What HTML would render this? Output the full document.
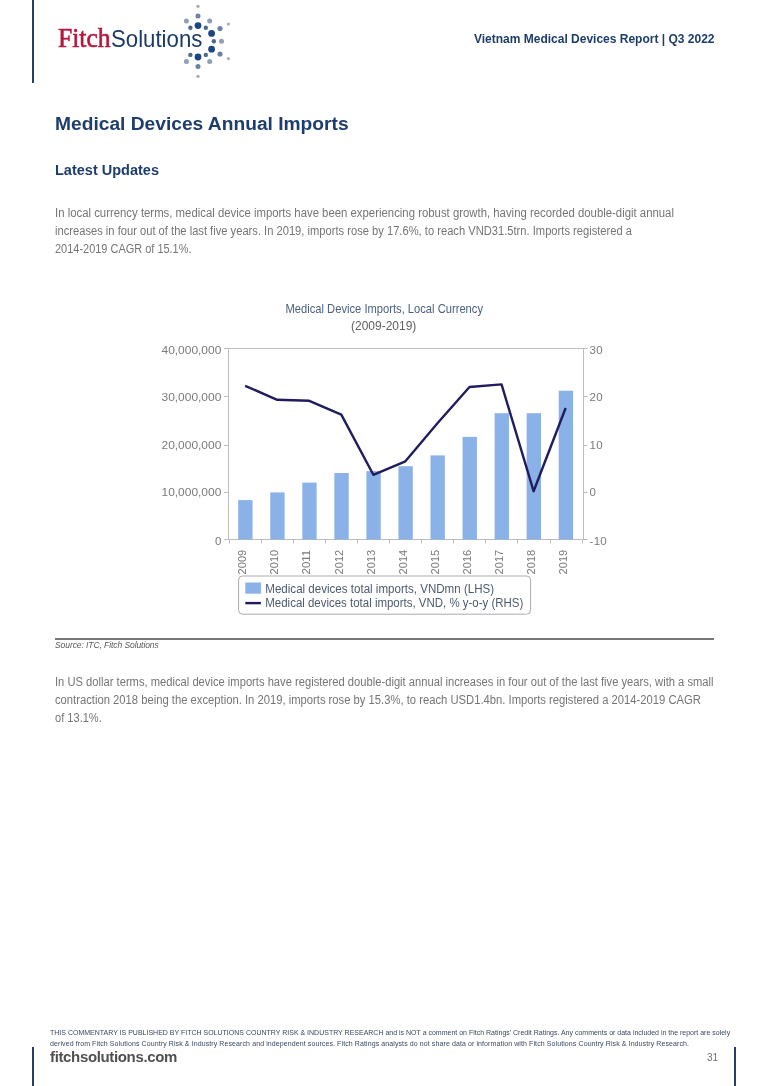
<!DOCTYPE html>
<html><head><meta charset="utf-8">
<style>
html,body{margin:0;padding:0;background:#fff;}
body{width:768px;height:1086px;position:relative;overflow:hidden;will-change:transform;font-family:"Liberation Sans",sans-serif;}
.a{position:absolute;white-space:nowrap;}
.vl{position:absolute;background:#24406a;width:2.3px;}
.hdr{font-weight:bold;color:#1d3d6c;}
.body{color:#757575;font-size:12.5px;line-height:18px;}
.ln{transform-origin:0 0;height:18px;}
</style></head><body>
<!-- header -->
<div class="vl" style="left:31.5px;top:0;height:82.6px;"></div>
<div class="a" id="fitch" style="left:57.5px;top:23px;font-family:'Liberation Serif',serif;font-size:28px;line-height:30px;color:#b5173f;-webkit-text-stroke:0.6px #b5173f;transform:scaleX(0.915);transform-origin:0 0;">Fitch</div>
<div class="a" id="sol" style="left:111.3px;top:24.3px;font-size:24px;line-height:30px;color:#1b3a68;transform:scaleX(0.925);transform-origin:0 0;">Solutions</div>
<svg class="a" style="left:0;top:0" width="260" height="90" viewBox="0 0 260 90">
<g>
<circle cx="198" cy="6.3" r="1.6" fill="#a3a7b0"/>
<circle cx="198" cy="16.1" r="2.5" fill="#6b82a5"/>
<circle cx="186.4" cy="21.1" r="2.5" fill="#909fb6"/>
<circle cx="209.7" cy="21.1" r="2.5" fill="#909fb6"/>
<circle cx="228.4" cy="24" r="1.6" fill="#a8acb4"/>
<circle cx="198" cy="25.6" r="3.4" fill="#1d4581"/>
<circle cx="190.4" cy="27.7" r="2.2" fill="#4b6790"/>
<circle cx="205.8" cy="27.7" r="2.2" fill="#4b6790"/>
<circle cx="220" cy="28.6" r="2.6" fill="#6b82a5"/>
<circle cx="211.6" cy="33.4" r="3.4" fill="#1d4581"/>
<circle cx="213.85" cy="41.3" r="2.2" fill="#4b6790"/>
<circle cx="221.5" cy="41.3" r="2.5" fill="#909fb6"/>
<circle cx="211.6" cy="49.2" r="3.4" fill="#1d4581"/>
<circle cx="220" cy="54" r="2.6" fill="#6b82a5"/>
<circle cx="205.8" cy="54.9" r="2.2" fill="#4b6790"/>
<circle cx="190.4" cy="54.9" r="2.2" fill="#4b6790"/>
<circle cx="198" cy="57" r="3.4" fill="#1d4581"/>
<circle cx="228.4" cy="58.6" r="1.6" fill="#a8acb4"/>
<circle cx="209.7" cy="61.5" r="2.5" fill="#909fb6"/>
<circle cx="186.4" cy="61.5" r="2.5" fill="#909fb6"/>
<circle cx="198" cy="66.5" r="2.5" fill="#6b82a5"/>
<circle cx="198" cy="76.3" r="1.6" fill="#a3a7b0"/>
</g>
</svg>
<div class="a hdr" id="rpt" style="right:53.5px;top:30.5px;font-size:12px;line-height:16px;">Vietnam Medical Devices Report | Q3 2022</div>

<!-- title -->
<div class="a hdr" id="title" style="left:55px;top:112px;font-size:19.2px;line-height:24px;">Medical Devices Annual Imports</div>
<div class="a hdr" id="latest" style="left:55px;top:160.5px;font-size:14.5px;line-height:18px;">Latest Updates</div>

<!-- para 1 -->
<div class="a body" id="p1" style="left:55px;top:203.5px;">
<div class="ln" style="transform:scaleX(0.909)">In local currency terms, medical device imports have been experiencing robust growth, having recorded double-digit annual</div>
<div class="ln" style="transform:scaleX(0.893)">increases in four out of the last five years. In 2019, imports rose by 17.6%, to reach VND31.5trn. Imports registered a</div>
<div class="ln" style="transform:scaleX(0.877)">2014-2019 CAGR of 15.1%.</div>
</div>

<!-- chart placeholder -->
<svg class="a" style="left:150px;top:290px" width="470" height="340" viewBox="150 290 470 340">
<g fill="none" stroke="#bdbdbd" stroke-width="1">
<path d="M228.5 348.5H583.5V539.5H228.5Z"/>
<path d="M224.0 396.50H228.5M583.5 396.50H587.5"/>
<path d="M224.0 445.50H228.5M583.5 445.50H587.5"/>
<path d="M224.0 492.50H228.5M583.5 492.50H587.5"/>
<path d="M224.0 348.5H228.5M583.5 348.5H587.5M224.0 539.5H228.5M583.5 539.5H587.5"/>
<path d="M229.5 539.5V543.5"/>
<path d="M261.5 539.5V543.5"/>
<path d="M293.5 539.5V543.5"/>
<path d="M325.5 539.5V543.5"/>
<path d="M357.5 539.5V543.5"/>
<path d="M389.5 539.5V543.5"/>
<path d="M421.5 539.5V543.5"/>
<path d="M453.5 539.5V543.5"/>
<path d="M485.5 539.5V543.5"/>
<path d="M517.5 539.5V543.5"/>
<path d="M550.5 539.5V543.5"/>
<path d="M582.5 539.5V543.5"/>
</g>
<g fill="#8ab2e8">
<rect x="238.20" y="500.1" width="14.35" height="39.4"/>
<rect x="270.25" y="492.4" width="14.35" height="47.1"/>
<rect x="302.30" y="482.6" width="14.35" height="56.9"/>
<rect x="334.35" y="473.0" width="14.35" height="66.5"/>
<rect x="366.40" y="471.1" width="14.35" height="68.4"/>
<rect x="398.45" y="466.2" width="14.35" height="73.3"/>
<rect x="430.50" y="455.4" width="14.35" height="84.1"/>
<rect x="462.55" y="436.9" width="14.35" height="102.6"/>
<rect x="494.60" y="413.2" width="14.35" height="126.3"/>
<rect x="526.65" y="413.2" width="14.35" height="126.3"/>
<rect x="558.70" y="390.7" width="14.35" height="148.8"/>
</g>
<polyline points="245.15,385.8 277.20,399.8 309.25,400.8 341.30,414.6 373.35,474.8 405.40,461.3 437.45,423.3 469.50,387 501.55,384.4 533.60,491.2 565.65,408" fill="none" stroke="#201d5e" stroke-width="2.4" stroke-linejoin="round"/>
<g font-family="Liberation Sans" font-size="11.5" fill="#7a7a7a">
<text x="221.3" y="353.9" text-anchor="end" textLength="59.8" lengthAdjust="spacingAndGlyphs">40,000,000</text>
<text x="589.6" y="353.9" letter-spacing="0.25">30</text>
<text x="221.3" y="401.3" text-anchor="end" textLength="59.8" lengthAdjust="spacingAndGlyphs">30,000,000</text>
<text x="589.6" y="401.3" letter-spacing="0.25">20</text>
<text x="221.3" y="449.1" text-anchor="end" textLength="59.8" lengthAdjust="spacingAndGlyphs">20,000,000</text>
<text x="589.6" y="449.1" letter-spacing="0.25">10</text>
<text x="221.3" y="496.3" text-anchor="end" textLength="59.8" lengthAdjust="spacingAndGlyphs">10,000,000</text>
<text x="589.6" y="496.3" letter-spacing="0.25">0</text>
<text x="221.3" y="544.6" text-anchor="end">0</text>
<text x="589.6" y="544.6" letter-spacing="0.25">-10</text>
<text transform="translate(246.35,549.8) rotate(-90)" text-anchor="end" textLength="24.6" lengthAdjust="spacingAndGlyphs">2009</text>
<text transform="translate(278.40,549.8) rotate(-90)" text-anchor="end" textLength="24.6" lengthAdjust="spacingAndGlyphs">2010</text>
<text transform="translate(310.45,549.8) rotate(-90)" text-anchor="end" textLength="24.6" lengthAdjust="spacingAndGlyphs">2011</text>
<text transform="translate(342.50,549.8) rotate(-90)" text-anchor="end" textLength="24.6" lengthAdjust="spacingAndGlyphs">2012</text>
<text transform="translate(374.55,549.8) rotate(-90)" text-anchor="end" textLength="24.6" lengthAdjust="spacingAndGlyphs">2013</text>
<text transform="translate(406.60,549.8) rotate(-90)" text-anchor="end" textLength="24.6" lengthAdjust="spacingAndGlyphs">2014</text>
<text transform="translate(438.65,549.8) rotate(-90)" text-anchor="end" textLength="24.6" lengthAdjust="spacingAndGlyphs">2015</text>
<text transform="translate(470.70,549.8) rotate(-90)" text-anchor="end" textLength="24.6" lengthAdjust="spacingAndGlyphs">2016</text>
<text transform="translate(502.75,549.8) rotate(-90)" text-anchor="end" textLength="24.6" lengthAdjust="spacingAndGlyphs">2017</text>
<text transform="translate(534.80,549.8) rotate(-90)" text-anchor="end" textLength="24.6" lengthAdjust="spacingAndGlyphs">2018</text>
<text transform="translate(566.85,549.8) rotate(-90)" text-anchor="end" textLength="24.6" lengthAdjust="spacingAndGlyphs">2019</text>
</g>
<rect x="238.6" y="576" width="292" height="38.2" rx="4" fill="none" stroke="#acacac" stroke-width="1"/>
<rect x="245.3" y="582.5" width="15.6" height="11.2" fill="#8ab2e8"/>
<path d="M245.3 603.1H260.9" stroke="#1f1d5c" stroke-width="2.4"/>
<g font-family="Liberation Sans" font-size="12.3" fill="#4d5a6e">
<text x="265.3" y="592.6" textLength="228.8" lengthAdjust="spacingAndGlyphs">Medical devices total imports, VNDmn (LHS)</text>
<text x="265.3" y="607.1" textLength="258" lengthAdjust="spacingAndGlyphs">Medical devices total imports, VND, % y-o-y (RHS)</text>
</g>
<text x="285.5" y="312.6" font-family="Liberation Sans" font-size="12.2" fill="#4a5f80" textLength="197.5" lengthAdjust="spacingAndGlyphs">Medical Device Imports, Local Currency</text>
<text x="351" y="330.2" font-family="Liberation Sans" font-size="12.2" fill="#606060" textLength="65.3" lengthAdjust="spacingAndGlyphs">(2009-2019)</text>
</svg>

<!-- source -->
<div class="a" style="left:55px;top:638px;width:659px;height:2px;background:#777;"></div>
<div class="a" id="src" style="left:55px;top:639.8px;font-size:9.8px;line-height:10px;font-style:italic;color:#5a5a5a;letter-spacing:-0.1px;transform:scaleX(0.87);transform-origin:0 0;">Source: ITC, Fitch Solutions</div>

<!-- para 2 -->
<div class="a body" id="p2" style="left:55px;top:673.2px;">
<div class="ln" style="transform:scaleX(0.895)">In US dollar terms, medical device imports have registered double-digit annual increases in four out of the last five years, with a small</div>
<div class="ln" style="transform:scaleX(0.899)">contraction 2018 being the exception. In 2019, imports rose by 15.3%, to reach USD1.4bn. Imports registered a 2014-2019 CAGR</div>
<div class="ln" style="transform:scaleX(0.886)">of 13.1%.</div>
</div>

<!-- footer -->
<div class="a" id="disc" style="left:50px;top:1028.2px;font-size:7px;line-height:10.5px;color:#3a4862;">
<div style="letter-spacing:0.0px">THIS COMMENTARY IS PUBLISHED BY FITCH SOLUTIONS COUNTRY RISK &amp; INDUSTRY RESEARCH and is NOT a comment on Fitch Ratings' Credit Ratings. Any comments or data included in the report are solely</div>
<div style="letter-spacing:0.098px">derived from Fitch Solutions Country Risk &amp; Industry Research and independent sources. Fitch Ratings analysts do not share data or information with Fitch Solutions Country Risk &amp; Industry Research.</div>
</div>
<div class="vl" style="left:31.5px;top:1047px;height:39px;"></div>
<div class="vl" style="left:734.2px;top:1047px;height:39px;"></div>
<div class="a" id="web" style="left:50px;top:1047.7px;font-size:15px;line-height:17px;font-weight:bold;color:#505050;letter-spacing:-0.35px;">fitchsolutions.com</div>
<div class="a" id="pg" style="left:707px;top:1051.8px;font-size:10px;line-height:11px;color:#707070;">31</div>
</body></html>
